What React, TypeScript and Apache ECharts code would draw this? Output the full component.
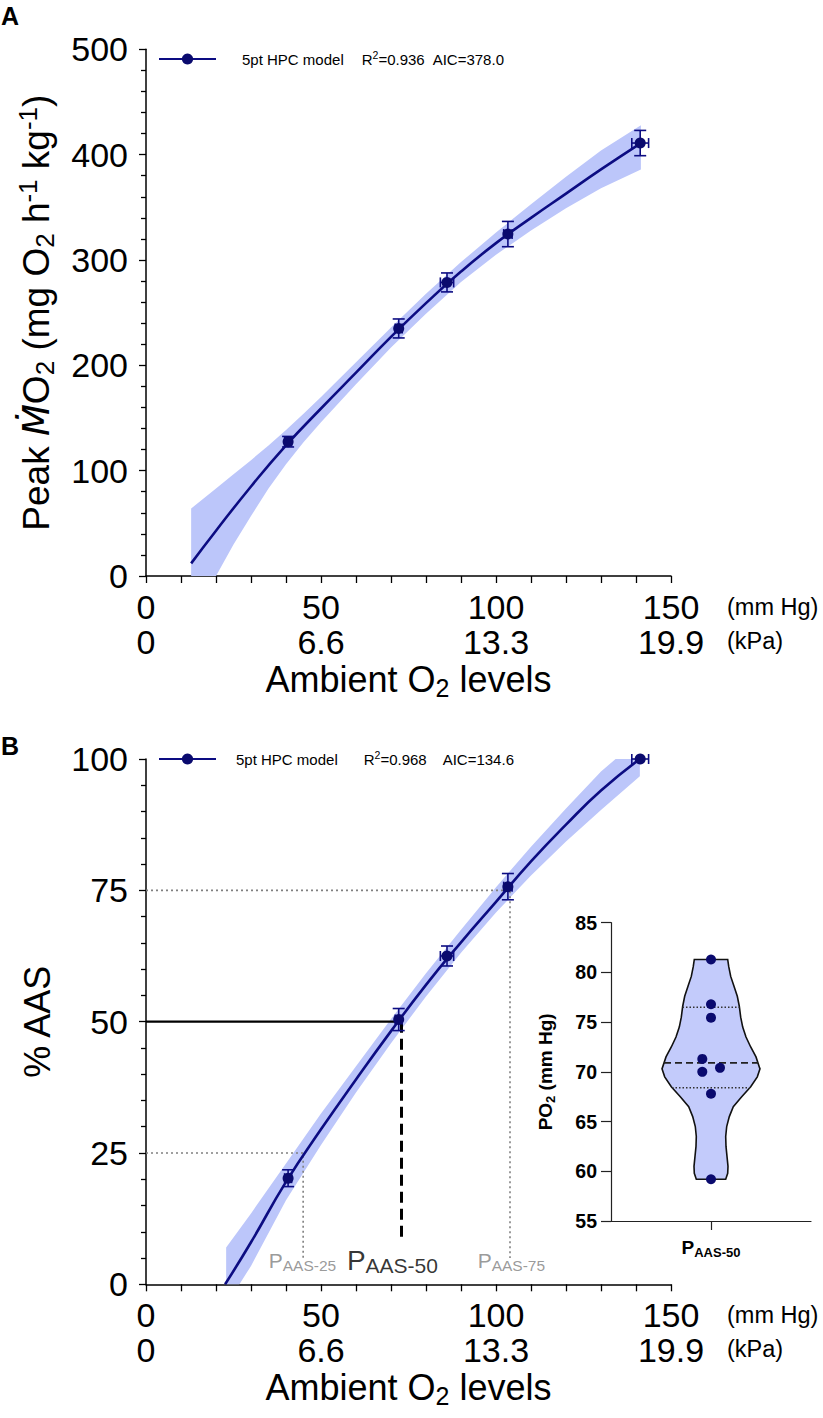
import React, { useEffect, useRef } from 'react';
import * as echarts from 'echarts';

// ---------- data ----------
// ambient O2 levels of the five exposures (mm Hg) and their SE
const o2Levels = [40.6, 72.2, 86.0, 103.4, 141.2];
const o2Err = [1.0, 1.0, 1.9, 1.2, 2.4];

// Panel A: peak MO2 (mg O2 h-1 kg-1)
const peakMO2 = [127.5, 235, 278.7, 324.6, 411];
const peakMO2Err = [5, 9, 9, 12, 12];
const fitAX = [12.9, 20, 30, 40, 50, 60, 70, 80, 90, 100, 110, 120, 130, 141.4];
const fitAY = [12, 43, 85, 124, 159, 193, 227, 259, 289, 316, 340, 363, 386, 411];
const bandAX = [12.9, 20, 25, 30, 35, 40, 45, 50, 60, 70, 80, 90, 100, 110, 120, 130, 141.4];
const bandAUpper = [64, 83, 96.5, 110, 124, 138.5, 154, 170, 203, 236, 268, 298, 326, 353, 379, 404, 428];
const bandALower = [-48, 0, 30, 57, 83, 106, 127, 146, 182, 217, 249, 279, 305, 328, 349, 368, 386];

// Panel B: % AAS
const pctAAS = [20.2, 50.4, 62.5, 75.7, 100];
const pctAASErr = [1.6, 2.1, 1.9, 2.5, 0];
const fitBX = [22.6, 30, 40, 50, 60, 70, 80, 90, 100, 110, 120, 130, 141.1];
const fitBY = [0, 8, 19.5, 29.5, 39, 48.2, 57, 65.1, 72.8, 80.5, 87.5, 94, 100];
const bandBX = [22.9, 30, 40, 50, 60, 70, 80, 90, 100, 110, 120, 130, 141.1];
const bandBUpper = [7, 13.5, 23, 32.5, 41.5, 50.5, 59.2, 67.5, 75.6, 83.3, 90.6, 97.6, 104];
const bandBLower = [-4, 3.5, 16, 26.5, 36.5, 45.9, 54.8, 63.1, 70.8, 77.8, 84.3, 90.3, 96.7];

// P_AAS thresholds
const aasLevels = [25, 50, 75];
const pAAS = [44.9, 73.0, 104.0];
const pAASLineEnd = [4.8, 7.9, 5.0];
const pAASLabelX = [44.7, 70.4, 104.4];
const pAASLabelNames = ['AAS-25', 'AAS-50', 'AAS-75'];

// Inset: individual P_AAS-50 values (mm Hg)
const pAAS50Values = [81.3, 76.8, 75.45, 71.3, 70.4, 70.0, 67.8, 59.2];
const pAAS50Jitter = [0, 0, 0, -0.087, 0.09, -0.087, 0, 0];
const violinLevels = [81.3, 80.6, 79.6, 78.6, 77.6, 76.6, 75.5, 74.5, 73.5, 72.5, 71.5, 70.5, 70.3, 69.5, 68.5, 67.5, 66.5, 65.5, 64.5, 63.5, 62.5, 61.5, 60.5, 59.8, 59.2];
const violinHalfWidth = [0.167, 0.177, 0.197, 0.23, 0.263, 0.283, 0.297, 0.317, 0.35, 0.397, 0.45, 0.483, 0.49, 0.463, 0.397, 0.307, 0.223, 0.183, 0.157, 0.147, 0.15, 0.16, 0.17, 0.167, 0.147];
const quartileValues = [68.4, 70.9, 76.5];
const quartileHalfWidth = [0.39, 0.47, 0.285];

// axis ticks
const mmHgTicks = [0, 50, 100, 150];
const kPaTicks = ['0', '6.6', '13.3', '19.9'];

// ---------- styles ----------
const FONT = "'Liberation Sans', Arial, Helvetica, sans-serif";
const NAVY = '#0c0c82';
const DOT = '#0a0a6e';
const BAND = '#bcc6fa';
const GRAY = '#808080';

const GA = { left: 146, top: 49.3, width: 525, height: 526.7 };
const GB = { left: 146, top: 759, width: 525, height: 525.3 };
const GI = { left: 611, top: 922.7, width: 200, height: 298.3 };

function titleRich(size: number, sub: number) {
  return {
    t: { fontSize: size, lineHeight: size + 6, fontFamily: FONT, color: '#000' },
    it: { fontSize: size, lineHeight: size + 6, fontFamily: "'DejaVu Sans', " + FONT, fontStyle: 'italic', color: '#000' },
    sub: { fontSize: sub, lineHeight: sub, verticalAlign: 'bottom', fontFamily: FONT, color: '#000' },
    sup: { fontSize: sub, lineHeight: sub, verticalAlign: 'top', fontFamily: FONT, color: '#000' },
  };
}

function bandSeries(xs: number[], up: number[], lo: number[], ax: number) {
  return {
    type: 'custom',
    xAxisIndex: ax,
    yAxisIndex: ax,
    clip: true,
    silent: true,
    z: 1,
    data: [[xs[0], up[0]]],
    renderItem: (_p: any, api: any) => {
      const pts: number[][] = [];
      for (let i = 0; i < xs.length; i++) pts.push(api.coord([xs[i], up[i]]));
      for (let i = xs.length - 1; i >= 0; i--) pts.push(api.coord([xs[i], lo[i]]));
      return { type: 'polygon', shape: { points: pts }, style: { fill: BAND } };
    },
  };
}

function errorBarSeries(xs: number[], ys: number[], xe: number[], ye: number[], ax: number) {
  return {
    type: 'custom',
    xAxisIndex: ax,
    yAxisIndex: ax,
    silent: true,
    z: 4,
    data: xs.map((x, i) => [x, ys[i], xe[i], ye[i]]),
    encode: { x: 0, y: 1 },
    renderItem: (_p: any, api: any) => {
      const x = api.value(0), y = api.value(1), dx = api.value(2), dy = api.value(3);
      const st = { stroke: NAVY, lineWidth: 1.6 };
      const ch: any[] = [];
      if (dy > 0) {
        const t = api.coord([x, y + dy]);
        const b = api.coord([x, y - dy]);
        ch.push({ type: 'line', shape: { x1: t[0], y1: t[1], x2: b[0], y2: b[1] }, style: st });
        ch.push({ type: 'line', shape: { x1: t[0] - 6, y1: t[1], x2: t[0] + 6, y2: t[1] }, style: st });
        ch.push({ type: 'line', shape: { x1: b[0] - 6, y1: b[1], x2: b[0] + 6, y2: b[1] }, style: st });
      }
      if (dx > 0) {
        const l = api.coord([x - dx, y]);
        const r = api.coord([x + dx, y]);
        ch.push({ type: 'line', shape: { x1: l[0], y1: l[1], x2: r[0], y2: r[1] }, style: st });
        ch.push({ type: 'line', shape: { x1: l[0], y1: l[1] - 5, x2: l[0], y2: l[1] + 5 }, style: st });
        ch.push({ type: 'line', shape: { x1: r[0], y1: r[1] - 5, x2: r[0], y2: r[1] + 5 }, style: st });
      }
      return { type: 'group', children: ch };
    },
  };
}

function mainXAxis(gridIndex: number) {
  return {
    type: 'value',
    gridIndex,
    min: 0,
    max: 150,
    interval: 50,
    name: '{t|Ambient O}{sub|2}{t| levels}',
    nameLocation: 'middle',
    nameGap: 82,
    nameTextStyle: { rich: titleRich(36, 25) },
    axisLine: { onZero: false, lineStyle: { color: '#000', width: 1.5 } },
    axisTick: { length: 7, lineStyle: { color: '#000', width: 1.3 } },
    minorTick: { show: true, splitNumber: 5, length: 7, lineStyle: { color: '#000', width: 1.3 } },
    splitLine: { show: false },
    axisLabel: {
      margin: 13,
      fontSize: 34,
      lineHeight: 35,
      fontFamily: FONT,
      color: '#000',
      formatter: (v: number) => {
        const i = mmHgTicks.indexOf(v);
        return i >= 0 ? `${v}\n${kPaTicks[i]}` : '';
      },
    },
  };
}

function mainYAxis(gridIndex: number, max: number, interval: number, name: string, size: number, sub: number) {
  return {
    type: 'value',
    gridIndex,
    min: 0,
    max,
    interval,
    name,
    nameLocation: 'middle',
    nameGap: 88,
    nameRotate: 90,
    nameTextStyle: { rich: titleRich(size, sub) },
    axisLine: { show: true, onZero: false, lineStyle: { color: '#000', width: 1.5 } },
    axisTick: { show: true, length: 7, lineStyle: { color: '#000', width: 1.3 } },
    minorTick: { show: true, splitNumber: 5, length: 5, lineStyle: { color: '#000', width: 1.3 } },
    splitLine: { show: false },
    axisLabel: { margin: 18, fontSize: 34, fontFamily: FONT, color: '#000' },
  };
}

function legendOf(name: string, top: number, text: string, firstPad: number, rPad: number, aPad: number) {
  const base = { fontSize: 15, lineHeight: 20, fontFamily: FONT, color: '#000' };
  return {
    data: [name],
    left: 153,
    top,
    itemWidth: 57,
    itemHeight: 14,
    selectedMode: false,
    formatter: () => text,
    textStyle: {
      ...base,
      rich: {
        t0: { ...base, padding: [0, 0, 0, firstPad] },
        t: base,
        r: { ...base, padding: [0, 0, 0, rPad] },
        a: { ...base, padding: [0, 0, 0, aPad] },
        sup: { fontSize: 10.5, lineHeight: 11, verticalAlign: 'top', fontFamily: FONT, color: '#000' },
      },
    },
  };
}

function refLine(data: number[][], color: string, width: number, type: any) {
  return {
    type: 'line',
    xAxisIndex: 1,
    yAxisIndex: 1,
    data,
    symbol: 'none',
    silent: true,
    z: 2,
    lineStyle: { color, width, type },
  };
}

function buildOption() {
  const series: any[] = [];

  // ---- panel A ----
  series.push(bandSeries(bandAX, bandAUpper, bandALower, 0));
  series.push({
    type: 'line', name: 'fitA', xAxisIndex: 0, yAxisIndex: 0,
    data: fitAX.map((x, i) => [x, fitAY[i]]),
    smooth: true, symbol: 'circle', showSymbol: false, z: 3,
    lineStyle: { color: NAVY, width: 2.6 }, itemStyle: { color: DOT, opacity: 1 },
  });
  series.push(errorBarSeries(o2Levels, peakMO2, o2Err, peakMO2Err, 0));
  series.push({
    type: 'scatter', xAxisIndex: 0, yAxisIndex: 0, symbolSize: 11, z: 5,
    data: o2Levels.map((x, i) => [x, peakMO2[i]]), itemStyle: { color: DOT, opacity: 1 },
  });

  // ---- panel B ----
  series.push(bandSeries(bandBX, bandBUpper, bandBLower, 1));
  series.push(refLine([[0, aasLevels[0]], [pAAS[0], aasLevels[0]], [pAAS[0], pAASLineEnd[0]]], GRAY, 1.6, [2, 3]));
  series.push(refLine([[0, aasLevels[2]], [pAAS[2], aasLevels[2]], [pAAS[2], pAASLineEnd[2]]], GRAY, 1.6, [2, 3]));
  series.push(refLine([[0, aasLevels[1]], [pAAS[1], aasLevels[1]]], '#000', 2.4, 'solid'));
  series.push(refLine([[pAAS[1], aasLevels[1]], [pAAS[1], pAASLineEnd[1]]], '#000', 3, [11, 6]));
  series.push({
    type: 'line', name: 'fitB', xAxisIndex: 1, yAxisIndex: 1,
    data: fitBX.map((x, i) => [x, fitBY[i]]),
    smooth: true, symbol: 'circle', showSymbol: false, z: 3,
    lineStyle: { color: NAVY, width: 2.6 }, itemStyle: { color: DOT, opacity: 1 },
  });
  series.push(errorBarSeries(o2Levels, pctAAS, o2Err, pctAASErr, 1));
  series.push({
    type: 'scatter', xAxisIndex: 1, yAxisIndex: 1, symbolSize: 11, z: 5,
    data: o2Levels.map((x, i) => [x, pctAAS[i]]), itemStyle: { color: DOT, opacity: 1 },
  });
  // P_AAS labels
  series.push({
    type: 'scatter', xAxisIndex: 1, yAxisIndex: 1, symbolSize: 1, silent: true, z: 6,
    itemStyle: { color: 'rgba(0,0,0,0)' },
    data: pAASLabelX.map((x, i) => ({
      value: [x, 4.6],
      label: {
        show: true,
        position: 'inside',
        formatter: i === 1 ? `{P|P}{S|${pAASLabelNames[i]}}` : `{p|P}{s|${pAASLabelNames[i]}}`,
        rich: {
          p: { fontSize: 21, lineHeight: 26, color: GRAY, fontFamily: FONT },
          s: { fontSize: 15.5, lineHeight: 15, verticalAlign: 'bottom', color: GRAY, fontFamily: FONT },
          P: { fontSize: 28, lineHeight: 32, color: '#000', fontFamily: FONT },
          S: { fontSize: 21, lineHeight: 20, verticalAlign: 'bottom', color: '#000', fontFamily: FONT },
        },
      },
    })),
  });

  // ---- inset ----
  series.push({
    type: 'custom', xAxisIndex: 2, yAxisIndex: 2, silent: true, z: 2,
    data: [[0, violinLevels[0]]],
    renderItem: (_p: any, api: any) => {
      const pts: number[][] = [];
      for (let i = 0; i < violinLevels.length; i++) pts.push(api.coord([violinHalfWidth[i], violinLevels[i]]));
      for (let i = violinLevels.length - 1; i >= 0; i--) pts.push(api.coord([-violinHalfWidth[i], violinLevels[i]]));
      return { type: 'polygon', shape: { points: pts }, style: { fill: '#c3cbfb', stroke: '#111', lineWidth: 1.6 } };
    },
  });
  series.push({
    type: 'custom', xAxisIndex: 2, yAxisIndex: 2, silent: true, z: 3,
    data: quartileValues.map((q, i) => [q, quartileHalfWidth[i], i]),
    encode: { y: 0 },
    renderItem: (_p: any, api: any) => {
      const q = api.value(0), hw = api.value(1), idx = api.value(2);
      const l = api.coord([-hw, q]);
      const r = api.coord([hw, q]);
      const median = idx === 1;
      return {
        type: 'line',
        shape: { x1: l[0], y1: l[1], x2: r[0], y2: r[1] },
        style: { stroke: median ? '#222' : '#333', lineWidth: median ? 1.8 : 1.4, lineDash: median ? [7, 4] : [1.5, 2] },
      };
    },
  });
  series.push({
    type: 'scatter', xAxisIndex: 2, yAxisIndex: 2, symbolSize: 10, z: 5,
    data: pAAS50Values.map((v, i) => [pAAS50Jitter[i], v]), itemStyle: { color: DOT, opacity: 1 },
  });

  const insetRich = {
    b: { fontSize: 19, lineHeight: 24, fontWeight: 'bold', fontFamily: FONT, color: '#000' },
    bs: { fontSize: 13, lineHeight: 13, fontWeight: 'bold', verticalAlign: 'bottom', fontFamily: FONT, color: '#000' },
  };

  const unitStyle = { fontSize: 23.5, fontFamily: FONT, fill: '#000', verticalAlign: 'middle' };

  return {
    animation: false,
    backgroundColor: '#fff',
    textStyle: { fontFamily: FONT },
    grid: [
      { ...GA, containLabel: false },
      { ...GB, containLabel: false },
      { ...GI, containLabel: false },
    ],
    legend: [
      legendOf('fitA', 44, '{t0|5pt HPC model}{r|R}{sup|2}{t|=0.936}{a|AIC=378.0}', 21, 18, 8),
      legendOf('fitB', 744, '{t0|5pt HPC model}{r|R}{sup|2}{t|=0.968}{a|AIC=134.6}', 15, 26, 16),
    ],
    xAxis: [
      mainXAxis(0),
      mainXAxis(1),
      {
        type: 'value', gridIndex: 2, min: -1, max: 1,
        axisLine: { onZero: false, lineStyle: { color: '#222', width: 1.2 } },
        axisTick: { customValues: [0], length: 9, lineStyle: { color: '#222', width: 1.2 } },
        splitLine: { show: false },
        axisLabel: {
          customValues: [0], margin: 14,
          formatter: () => '{b|P}{bs|AAS-50}',
          rich: insetRich,
        },
      },
    ],
    yAxis: [
      mainYAxis(0, 500, 100, '{t|Peak }{it|Ṁ}{t|O}{sub|2}{t| (mg O}{sub|2}{t| h}{sup|-1}{t| kg}{sup|-1}{t|)}', 37, 26),
      mainYAxis(1, 100, 25, '{t|% AAS}', 36, 25),
      {
        type: 'value', gridIndex: 2, min: 55, max: 85, interval: 5,
        name: '{b|PO}{bs|2}{b| (mm Hg)}',
        nameLocation: 'middle', nameRotate: 90, nameGap: 54,
        nameTextStyle: { rich: insetRich },
        axisLine: { show: true, onZero: false, lineStyle: { color: '#222', width: 1.2 } },
        axisTick: { show: true, length: 10, lineStyle: { color: '#222', width: 1.2 } },
        splitLine: { show: false },
        axisLabel: { margin: 14, fontSize: 19.5, fontWeight: 'bold', fontFamily: FONT, color: '#000' },
      },
    ],
    graphic: [
      { type: 'text', x: 1, y: 16, style: { text: 'A', fontSize: 25, fontWeight: 'bold', fontFamily: FONT, fill: '#000', verticalAlign: 'middle' } },
      { type: 'text', x: 1, y: 746, style: { text: 'B', fontSize: 25, fontWeight: 'bold', fontFamily: FONT, fill: '#000', verticalAlign: 'middle' } },
      { type: 'text', x: GA.left + GA.width + 56, y: 607, style: { text: '(mm Hg)', ...unitStyle } },
      { type: 'text', x: GA.left + GA.width + 56, y: 641, style: { text: '(kPa)', ...unitStyle } },
      { type: 'text', x: GB.left + GB.width + 56, y: 1315, style: { text: '(mm Hg)', ...unitStyle } },
      { type: 'text', x: GB.left + GB.width + 56, y: 1349, style: { text: '(kPa)', ...unitStyle } },
    ],
    series,
  };
}

export default function App() {
  const ref = useRef<HTMLDivElement>(null);
  useEffect(() => {
    document.body.style.margin = '0';
    if (!ref.current) return;
    const chart = echarts.init(ref.current, null, { renderer: 'svg' });
    chart.setOption(buildOption() as any);
    return () => chart.dispose();
  }, []);
  return <div ref={ref} style={{ width: 823, height: 1418, background: '#fff' }} />;
}
